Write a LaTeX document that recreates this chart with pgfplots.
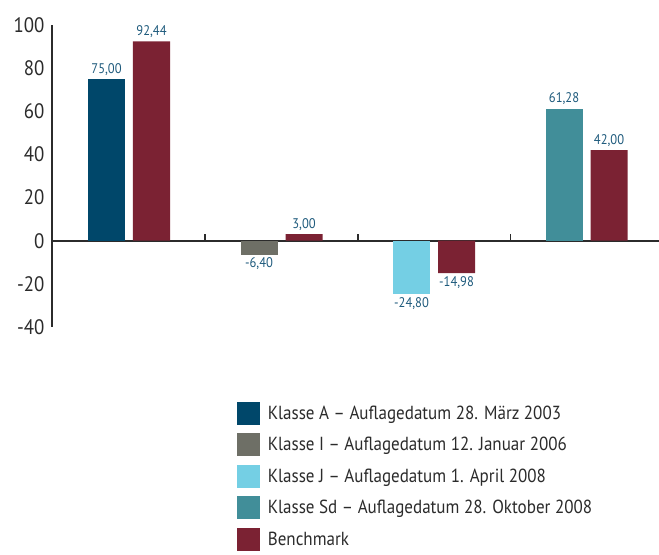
\documentclass[border=0pt]{standalone}
\usepackage{pgfplots}
\pgfplotsset{compat=1.18}
\usepackage{fontspec}
\setmainfont{PT Sans}[FakeStretch=0.9]
\definecolor{cA}{HTML}{00476A}
\definecolor{cI}{HTML}{6E6F66}
\definecolor{cJ}{HTML}{74CFE4}
\definecolor{cSd}{HTML}{418E99}
\definecolor{cB}{HTML}{7B2233}
\definecolor{lbl}{HTML}{1E5A7C}
\definecolor{axc}{HTML}{2B2B2B}
\begin{document}
\begin{tikzpicture}[x=1bp,y=1bp]
\path[use as bounding box] (0,0) rectangle (659,555);
\begin{axis}[
  at={(52bp,228bp)}, anchor=south west,
  scale only axis, width=607bp, height=302bp,
  xmin=-0.505, xmax=3.475, ymin=-40, ymax=100,
  axis y line=left, axis x line=middle,
  axis line style={-, axc, line width=1.6bp},
  ytick={-40,-20,0,20,40,60,80,100},
  ytick style={draw=none},
  yticklabel style={font=\fontsize{21}{21}\selectfont, text=axc, /pgf/number format/assume math mode=true, xshift=-2bp},
  xtick=\empty,
  ybar, bar shift=0pt, bar width=0.243,
  nodes near coords,
  every node near coord/.append style={font=\fontsize{14}{14}\selectfont, text=lbl,
    /pgf/number format/.cd, fixed, fixed zerofill, precision=2, use comma, assume math mode=true},
  legend style={at={(0.305,-0.247)}, anchor=north west, draw=none, fill=none, inner sep=0pt,
    row sep=8.5bp, font=\fontsize{19}{19}\selectfont, text=axc, cells={anchor=west},
    nodes={inner xsep=7.5bp}},
  legend image code/.code={\fill[#1] (0bp,-11.5bp) rectangle (23bp,11.5bp);},
]
\addplot[draw=none, fill=cA] coordinates {(-0.1475,75.00)};
\addplot[draw=none, fill=cI] coordinates {(0.8525,-6.40)};
\addplot[draw=none, fill=cJ] coordinates {(1.8525,-24.80)};
\addplot[draw=none, fill=cSd] coordinates {(2.8525,61.28)};
\addplot[draw=none, fill=cB] coordinates {(0.1475,92.44) (1.1475,3.00) (2.1475,-14.98) (3.1475,42.00)};
\legend{Klasse A – Auflagedatum 28. März 2003,
        Klasse I – Auflagedatum 12. Januar 2006,
        Klasse J – Auflagedatum 1. April 2008,
        Klasse Sd – Auflagedatum 28. Oktober 2008,
        Benchmark}
\draw[axc, line width=1.6bp] (axis cs:0.5,0) -- ++(0bp,7bp);
\draw[axc, line width=1.6bp] (axis cs:1.5,0) -- ++(0bp,7bp);
\draw[axc, line width=1.6bp] (axis cs:2.5,0) -- ++(0bp,7bp);
\end{axis}
\end{tikzpicture}
\end{document}
